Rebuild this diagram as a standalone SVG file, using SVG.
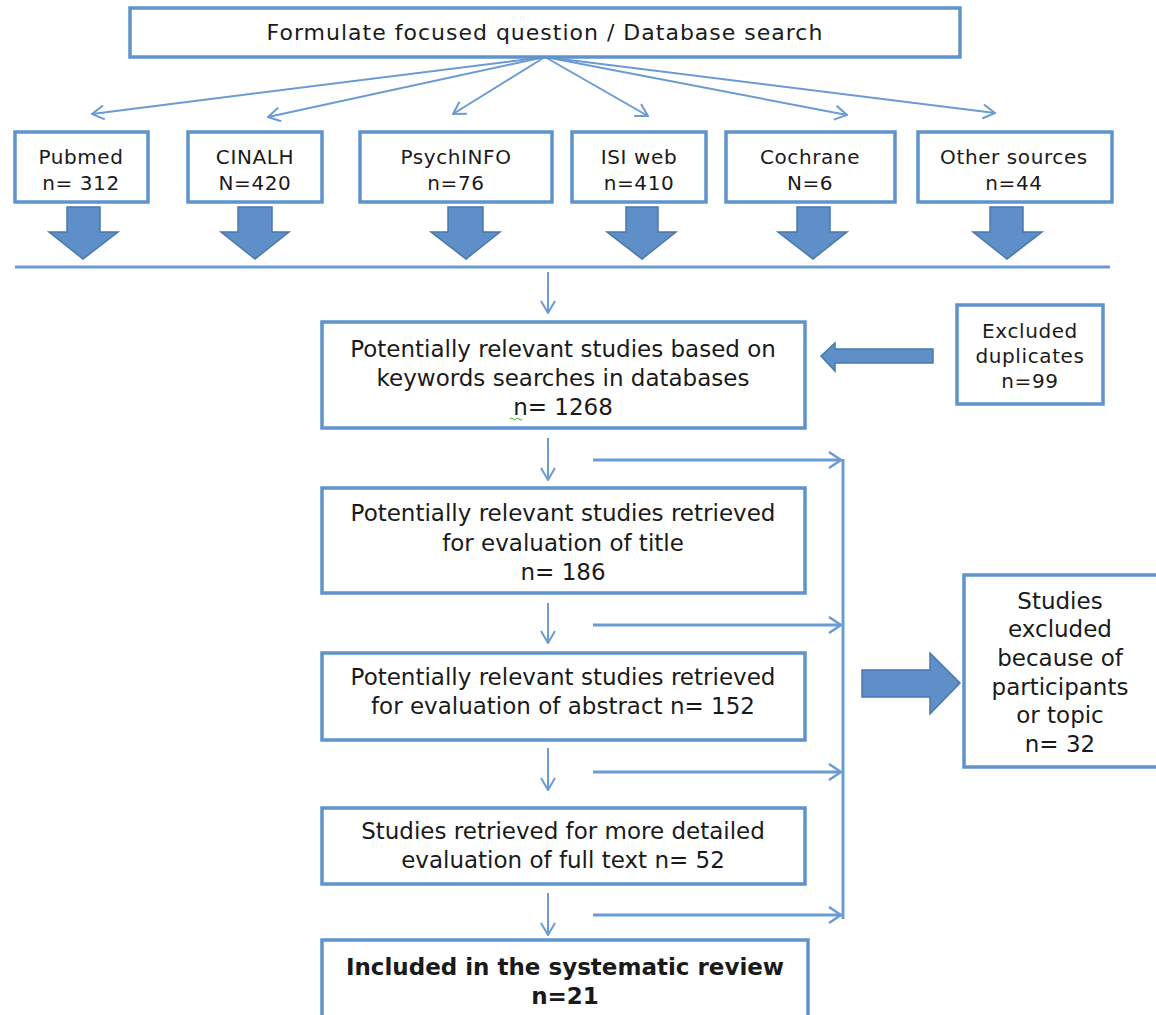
<svg xmlns="http://www.w3.org/2000/svg" width="1156" height="1015" viewBox="0 0 1156 1015">
<defs>
<style>
.box{fill:#fff;stroke:#5f93cc;stroke-width:3.5}
.ln{fill:none;stroke:#6a9bd2;stroke-width:2}
.lnb{fill:none;stroke:#6a9bd2;stroke-width:3}
.blk{fill:#5e8fc8;stroke:#4a78ad;stroke-width:1.5}
.t{font-family:"DejaVu Sans",Verdana,sans-serif;fill:#1a1a1a;text-anchor:middle}
.s{font-size:20px;letter-spacing:0.6px}
.m{font-size:23px}
.b{font-weight:bold}
</style>
<marker id="ah" viewBox="0 0 14 16" refX="13" refY="8" markerWidth="14" markerHeight="16" markerUnits="userSpaceOnUse" orient="auto">
<path d="M1,1 L13,8 L1,15" fill="none" stroke="#6a9bd2" stroke-width="2"/>
</marker>
<marker id="ah2" viewBox="0 0 14 18" refX="13" refY="9" markerWidth="14" markerHeight="18" markerUnits="userSpaceOnUse" orient="auto">
<path d="M1,1 L13,9 L1,17" fill="none" stroke="#6a9bd2" stroke-width="2.5"/>
</marker>
</defs>
<rect width="1156" height="1015" fill="#fff"/>

<g id="connectors">
<line class="ln" x1="545" y1="57" x2="92" y2="114" marker-end="url(#ah)"/>
<line class="ln" x1="545" y1="57" x2="268" y2="117" marker-end="url(#ah)"/>
<line class="ln" x1="545" y1="57" x2="453" y2="114" marker-end="url(#ah)"/>
<line class="ln" x1="545" y1="57" x2="648" y2="116" marker-end="url(#ah)"/>
<line class="ln" x1="545" y1="57" x2="847" y2="115" marker-end="url(#ah)"/>
<line class="ln" x1="545" y1="57" x2="995" y2="113" marker-end="url(#ah)"/>

<path class="blk" d="M67,207 H100 V232 H118 L83,259 L49,232 H67 Z"/>
<path class="blk" d="M238,207 H272 V232 H289 L255,259 L221,232 H238 Z"/>
<path class="blk" d="M448,207 H483 V232 H500 L466,259 L431,232 H448 Z"/>
<path class="blk" d="M626,207 H658 V232 H676 L642,259 L607,232 H626 Z"/>
<path class="blk" d="M797,207 H830 V232 H847 L813,259 L778,232 H797 Z"/>
<path class="blk" d="M990,207 H1023 V232 H1042 L1007,259 L973,232 H990 Z"/>

<line class="lnb" x1="15" y1="267" x2="1110" y2="267"/>

<line class="ln" x1="548" y1="272" x2="548" y2="313" marker-end="url(#ah)"/>
<line class="ln" x1="548" y1="438" x2="548" y2="480" marker-end="url(#ah)"/>
<line class="ln" x1="548" y1="603" x2="548" y2="643" marker-end="url(#ah)"/>
<line class="ln" x1="548" y1="748" x2="548" y2="790" marker-end="url(#ah)"/>
<line class="ln" x1="548" y1="893" x2="548" y2="935" marker-end="url(#ah)"/>

<path class="blk" d="M933,349 V363 H835 V371 L821,356 L835,343 V349 Z"/>

<line class="lnb" x1="593" y1="460" x2="841" y2="460" marker-end="url(#ah2)"/>
<line class="lnb" x1="593" y1="625" x2="841" y2="625" marker-end="url(#ah2)"/>
<line class="lnb" x1="593" y1="772" x2="841" y2="772" marker-end="url(#ah2)"/>
<line class="lnb" x1="593" y1="915" x2="841" y2="915" marker-end="url(#ah2)"/>
<line class="lnb" x1="843" y1="459" x2="843" y2="919"/>

<path class="blk" d="M862,670 H930 V653 L960,683 L930,714 V697 H862 Z"/>
</g>

<g id="n-top">
<rect class="box" x="130" y="8" width="830" height="49"/>
<text class="t" x="545" y="40" font-size="22" letter-spacing="1">Formulate focused question / Database search</text>
</g>

<g id="n-pubmed">
<rect class="box" x="15" y="132" width="133" height="70"/>
<text class="t s" x="81" y="164">Pubmed</text>
<text class="t s" x="81" y="190">n= 312</text>
</g>
<g id="n-cinalh">
<rect class="box" x="188" y="132" width="134" height="70"/>
<text class="t s" x="255" y="164">CINALH</text>
<text class="t s" x="255" y="190">N=420</text>
</g>
<g id="n-psych">
<rect class="box" x="360" y="132" width="192" height="70"/>
<text class="t s" x="456" y="164">PsychINFO</text>
<text class="t s" x="456" y="190">n=76</text>
</g>
<g id="n-isi">
<rect class="box" x="572" y="132" width="134" height="70"/>
<text class="t s" x="639" y="164">ISI web</text>
<text class="t s" x="639" y="190">n=410</text>
</g>
<g id="n-cochrane">
<rect class="box" x="726" y="132" width="169" height="70"/>
<text class="t s" x="810" y="164">Cochrane</text>
<text class="t s" x="810" y="190">N=6</text>
</g>
<g id="n-other">
<rect class="box" x="918" y="132" width="194" height="70"/>
<text class="t s" x="1014" y="164">Other sources</text>
<text class="t s" x="1014" y="190">n=44</text>
</g>

<g id="n-relevant">
<rect class="box" x="322" y="322" width="483" height="106"/>
<text class="t m" x="563" y="357">Potentially relevant studies based on</text>
<text class="t m" x="563" y="386">keywords searches in databases</text>
<text class="t m" x="563" y="415">n= 1268</text>
<path d="M510,419 q1.5,-2 3,0 t3,0 t3,0 t3,0" fill="none" stroke="#6cb33f" stroke-width="1.2"/>
</g>

<g id="n-duplicates">
<rect class="box" x="957" y="305" width="146" height="99"/>
<text class="t s" x="1030" y="338">Excluded</text>
<text class="t s" x="1030" y="363">duplicates</text>
<text class="t s" x="1030" y="388">n=99</text>
</g>

<g id="n-title">
<rect class="box" x="322" y="488" width="483" height="105"/>
<text class="t m" x="563" y="521">Potentially relevant studies retrieved</text>
<text class="t m" x="563" y="551">for evaluation of title</text>
<text class="t m" x="563" y="580">n= 186</text>
</g>

<g id="n-abstract">
<rect class="box" x="322" y="653" width="483" height="87"/>
<text class="t m" x="563" y="685">Potentially relevant studies retrieved</text>
<text class="t m" x="563" y="714">for evaluation of abstract n= 152</text>
</g>

<g id="n-fulltext">
<rect class="box" x="322" y="808" width="483" height="76"/>
<text class="t m" x="563" y="839">Studies retrieved for more detailed</text>
<text class="t m" x="563" y="868">evaluation of full text n= 52</text>
</g>

<g id="n-included">
<rect class="box" x="322" y="940" width="486" height="85"/>
<text class="t m b" x="565" y="975">Included in the systematic review</text>
<text class="t m b" x="565" y="1004">n=21</text>
</g>

<g id="n-excluded">
<rect class="box" x="964" y="575" width="200" height="192"/>
<text class="t m" x="1060" y="609">Studies</text>
<text class="t m" x="1060" y="637">excluded</text>
<text class="t m" x="1060" y="666">because of</text>
<text class="t m" x="1060" y="695">participants</text>
<text class="t m" x="1060" y="723">or topic</text>
<text class="t m" x="1060" y="752">n= 32</text>
</g>
</svg>
